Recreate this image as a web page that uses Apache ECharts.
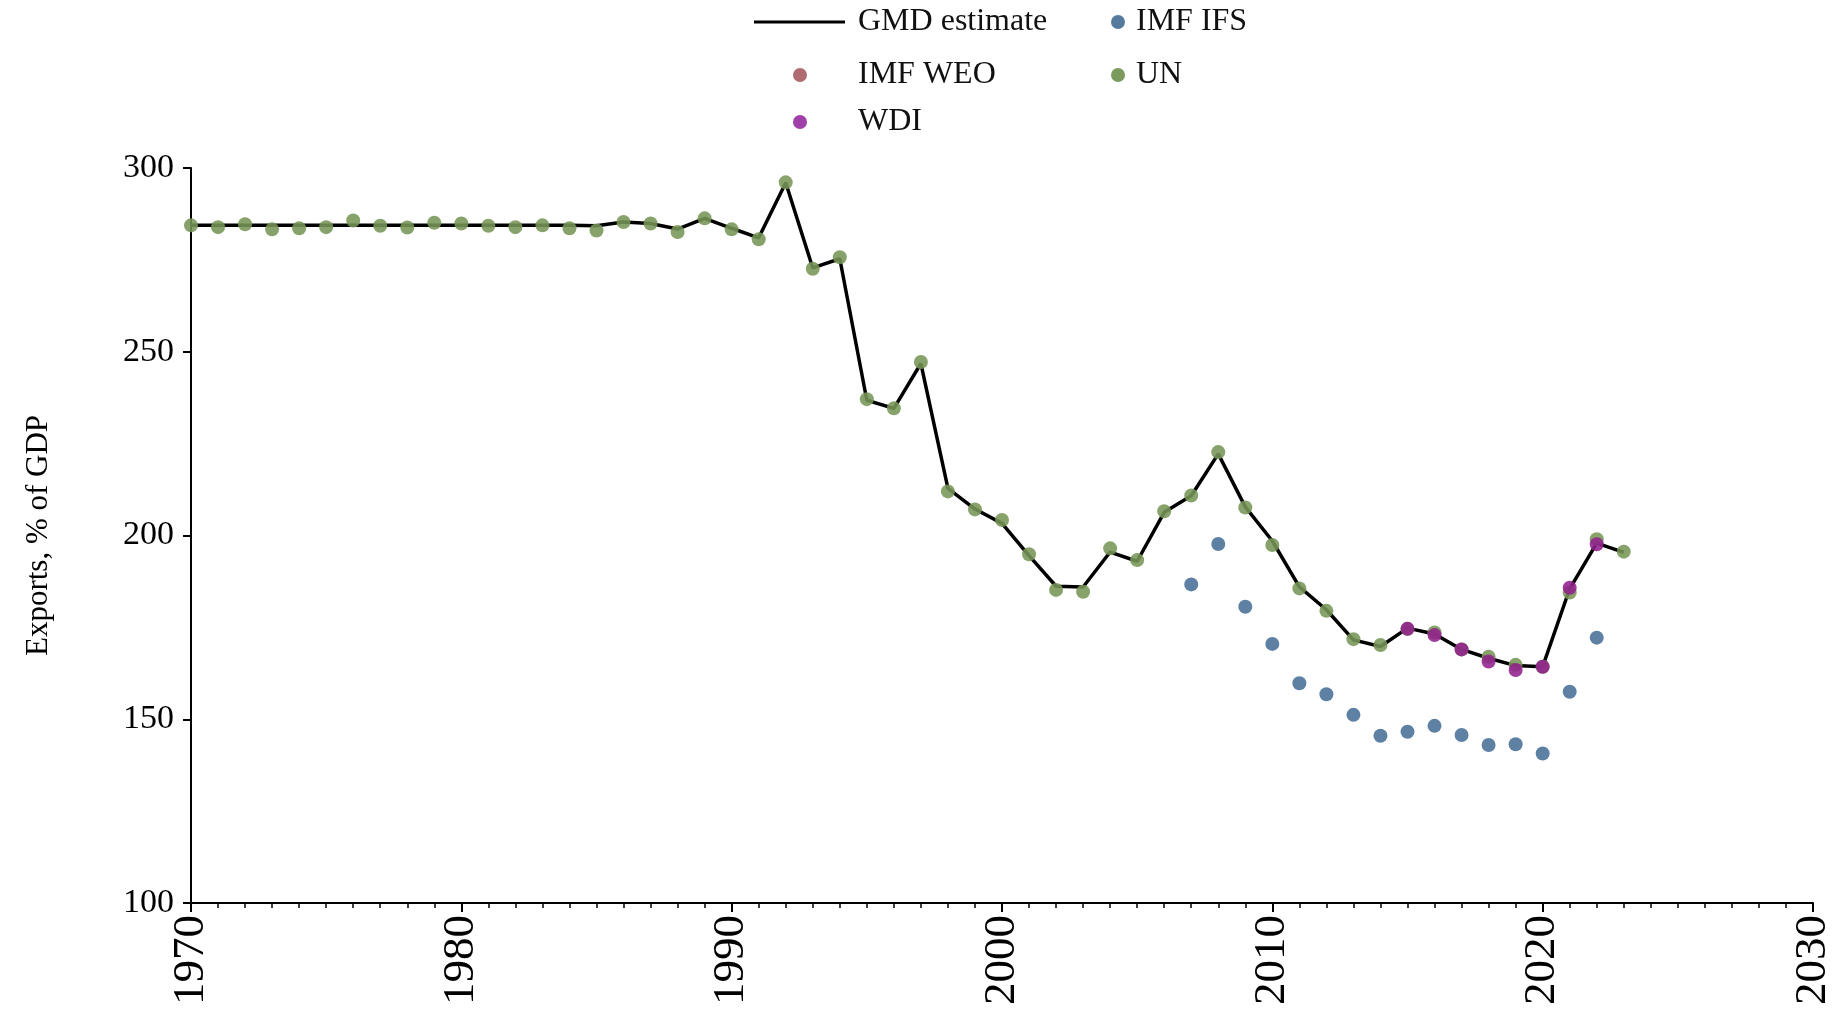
<!DOCTYPE html>
<html>
<head>
<meta charset="utf-8">
<script src="https://cdn.jsdelivr.net/npm/echarts@6/dist/echarts.min.js"></script>
<style>
html,body{margin:0;padding:0;background:#fff;}
#chart{width:1840px;height:1010px;}
</style>
</head>
<body>
<div id="chart"></div>
<script>
// ---- Data ----
const years = [1970,1971,1972,1973,1974,1975,1976,1977,1978,1979,1980,1981,1982,1983,1984,1985,1986,1987,1988,1989,1990,1991,1992,1993,1994,1995,1996,1997,1998,1999,2000,2001,2002,2003,2004,2005,2006,2007,2008,2009,2010,2011,2012,2013,2014,2015,2016,2017,2018,2019,2020,2021,2022,2023];
const gmdValues = [284.4,284.4,284.4,284.4,284.4,284.4,284.4,284.4,284.4,284.4,284.4,284.4,284.4,284.4,284.4,284.3,285.3,284.9,283.4,286.3,283.6,281.0,296.0,272.8,275.3,236.8,234.6,246.8,212.8,207.2,203.3,194.5,186.2,186.0,195.5,193.0,206.3,210.8,222.2,207.8,198.5,186.0,179.8,171.6,169.8,174.8,173.2,169.0,166.6,164.6,164.3,185.5,197.9,195.4];
const unValues = [284.4,283.9,284.7,283.3,283.6,283.9,285.7,284.3,283.8,285.1,284.9,284.3,283.9,284.4,283.6,283.0,285.3,284.9,282.6,286.3,283.3,280.6,296.1,272.6,275.7,237.1,234.6,247.2,212.0,207.1,204.2,194.9,185.2,184.7,196.5,193.3,206.6,210.9,222.7,207.6,197.4,185.6,179.5,171.8,170.2,174.6,173.6,169.0,167.0,164.8,164.3,184.5,199.0,195.6];
const ifsYears = [2007,2008,2009,2010,2011,2012,2013,2014,2015,2016,2017,2018,2019,2020,2021,2022];
const ifsValues = [186.7,197.7,180.6,170.5,159.8,156.8,151.2,145.5,146.6,148.2,145.7,143.0,143.2,140.7,157.5,172.2];
const wdiYears = [2015,2016,2017,2018,2019,2020,2021,2022];
const wdiValues = [174.6,172.9,169.0,165.7,163.4,164.3,185.8,197.6];
const weoYears = [];
const weoValues = [];
const xTicks = [1970,1980,1990,2000,2010,2020,2030];
const yTicks = [100,150,200,250,300];

const pairs = (xs, ys) => xs.map((x, i) => [x, ys[i]]);

const FONT = '"Liberation Serif", "Times New Roman", serif';
const cGMD = '#000000', cIFS = '#557a9e', cWEO = '#b06a72', cUN = '#7a9a5e', cWDI = '#a040a8';

const chart = echarts.init(document.getElementById('chart'), null, {renderer: 'canvas'});

function legendItem(name, color, left, top, iconW, iconH, icon, padLeft) {
  return {
    data: [{name: name, icon: icon, itemStyle: {color: color, opacity: 1}}],
    left: left, top: top, padding: 0,
    itemWidth: iconW, itemHeight: iconH,
    selectedMode: false,
    textStyle: {fontFamily: FONT, fontSize: 32, color: '#111', padding: [0, 0, 0, padLeft]}
  };
}

const option = {
  backgroundColor: '#ffffff',
  animation: false,
  legend: [
    legendItem('GMD estimate', cGMD, 754, 6, 91, 3, 'rect', 8),
    legendItem('IMF IFS', cIFS, 1111, 6, 14, 14, 'circle', 6),
    legendItem('IMF WEO', cWEO, 793, 59, 14, 14, 'circle', 46),
    legendItem('UN', cUN, 1111, 59, 14, 14, 'circle', 6),
    legendItem('WDI', cWDI, 793, 106, 14, 14, 'circle', 46)
  ],
  grid: {left: 191, right: 27, top: 168, bottom: 107},
  xAxis: {
    type: 'value', min: xTicks[0], max: xTicks[xTicks.length - 1], interval: 10,
    axisLine: {show: true, onZero: false, lineStyle: {color: '#000', width: 2}},
    axisTick: {show: true, length: 9, lineStyle: {color: '#000', width: 2}},
    minorTick: {show: true, splitNumber: 10, length: 5, lineStyle: {color: '#000', width: 1.5}},
    splitLine: {show: false},
    axisLabel: {rotate: 90, margin: 12, fontFamily: FONT, fontSize: 45, color: '#000',
      formatter: v => String(v)}
  },
  yAxis: {
    type: 'value', min: yTicks[0], max: yTicks[yTicks.length - 1], interval: 50,
    name: 'Exports, % of GDP', nameLocation: 'middle', nameGap: 137,
    nameTextStyle: {fontFamily: FONT, fontSize: 31, color: '#000'},
    axisLine: {show: true, lineStyle: {color: '#000', width: 2}},
    axisTick: {show: true, length: 8, lineStyle: {color: '#000', width: 2}},
    splitLine: {show: false},
    axisLabel: {margin: 17, fontFamily: FONT, fontSize: 34, color: '#000'}
  },
  series: [
    {name: 'GMD estimate', type: 'line', data: pairs(years, gmdValues), symbol: 'none',
     lineStyle: {color: cGMD, width: 3.5}, itemStyle: {color: cGMD}, z: 2},
    {name: 'IMF IFS', type: 'scatter', data: pairs(ifsYears, ifsValues), symbolSize: 14,
     itemStyle: {color: cIFS, opacity: 0.95}, z: 3},
    {name: 'IMF WEO', type: 'scatter', data: pairs(weoYears, weoValues), symbolSize: 14,
     itemStyle: {color: cWEO, opacity: 0.85}, z: 3},
    {name: 'UN', type: 'scatter', data: pairs(years, unValues), symbolSize: 14,
     itemStyle: {color: '#769656', opacity: 0.88}, z: 4},
    {name: 'WDI', type: 'scatter', data: pairs(wdiYears, wdiValues), symbolSize: 14,
     itemStyle: {color: '#92208c', opacity: 0.88}, z: 5}
  ]
};
chart.setOption(option);
</script>
</body>
</html>
